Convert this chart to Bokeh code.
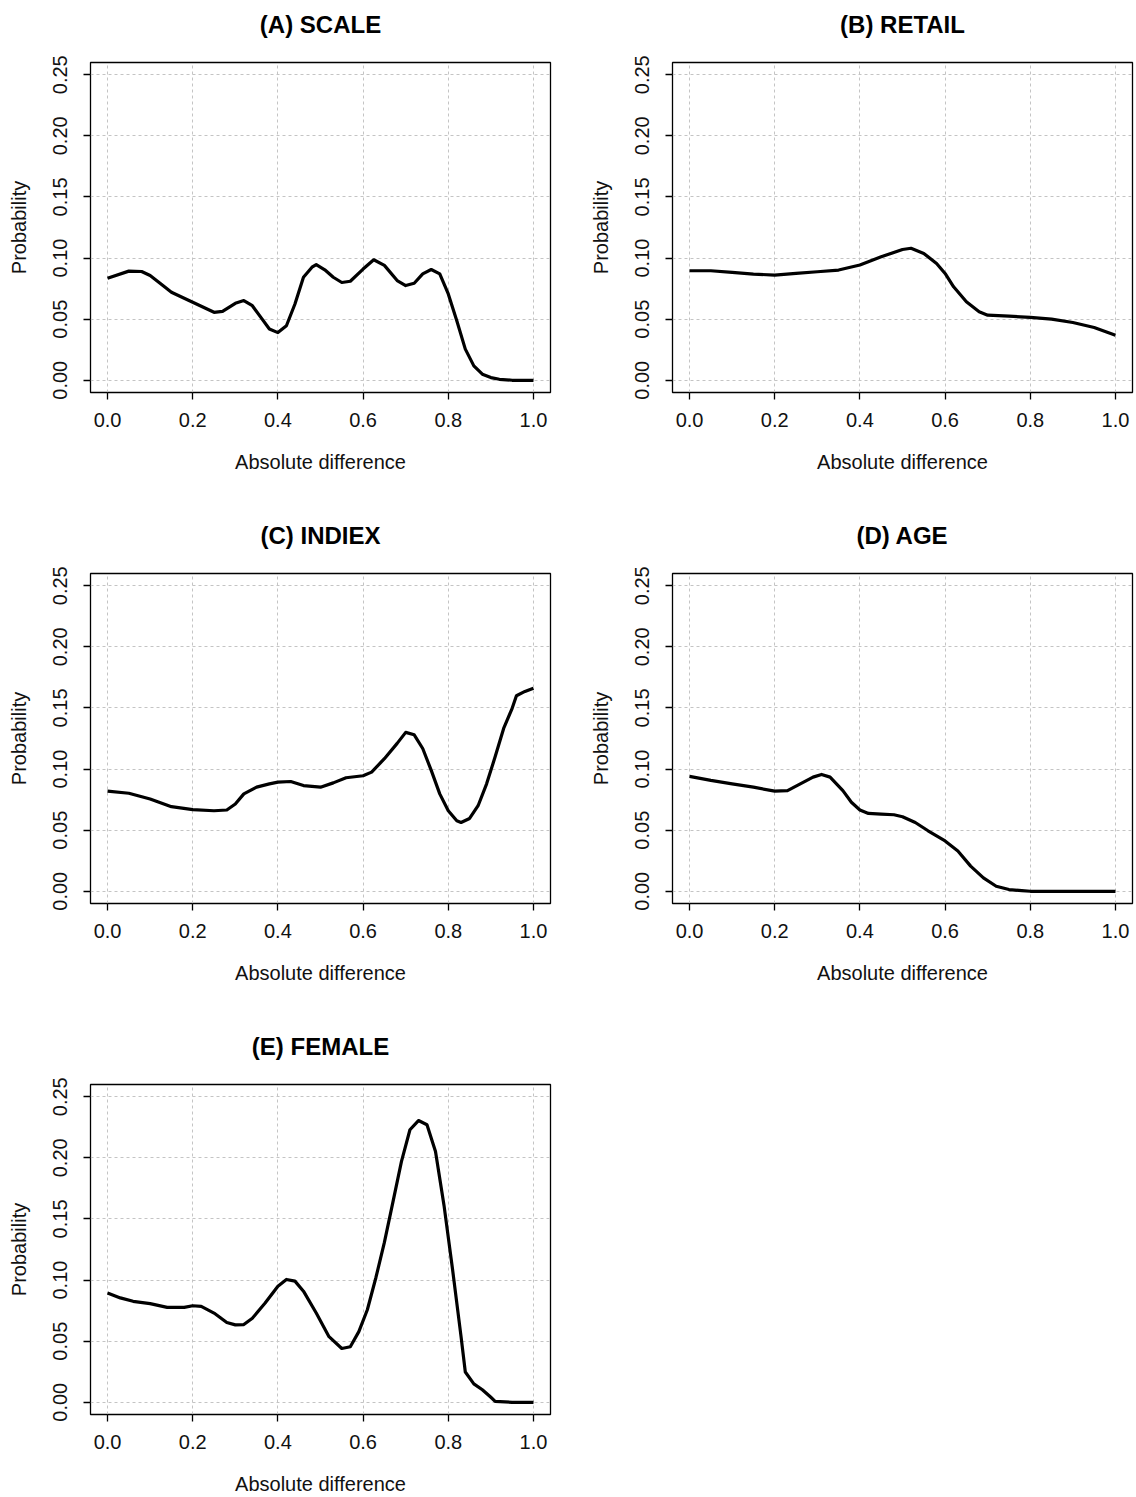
from bokeh.plotting import figure
from bokeh.layouts import column, row
from bokeh.models import Range1d, FixedTicker, NumeralTickFormatter
from bokeh.embed import file_html
from bokeh.resources import INLINE

# ---- data ----
titles = ["(A) SCALE", "(B) RETAIL", "(C) INDIEX", "(D) AGE", "(E) FEMALE"]
x_ticks = [0.0, 0.2, 0.4, 0.6, 0.8, 1.0]
y_ticks = [0.0, 0.05, 0.10, 0.15, 0.20, 0.25]

A_x = [0.0, 0.05, 0.08, 0.10, 0.13, 0.15, 0.20, 0.25, 0.27, 0.30, 0.32, 0.34, 0.36, 0.38, 0.40, 0.42, 0.44,
       0.46, 0.48, 0.49, 0.51, 0.53, 0.55, 0.57, 0.60, 0.625, 0.65, 0.68, 0.70, 0.72, 0.74, 0.76, 0.78,
       0.80, 0.82, 0.84, 0.86, 0.88, 0.90, 0.92, 0.95, 1.0]
A_y = [0.0835, 0.0893, 0.0890, 0.0857, 0.0775, 0.0720, 0.0638, 0.0556, 0.0564, 0.0630, 0.0652, 0.0610,
       0.0515, 0.0420, 0.0390, 0.0446, 0.0624, 0.0843, 0.0925, 0.0947, 0.0904, 0.0843, 0.0800, 0.0810,
       0.0910, 0.0986, 0.0940, 0.0816, 0.0775, 0.0794, 0.0870, 0.0906, 0.0870, 0.0706, 0.0487, 0.0255,
       0.0118, 0.0050, 0.0022, 0.0008, 0.0, 0.0]

B_x = [0.0, 0.05, 0.10, 0.15, 0.20, 0.25, 0.30, 0.35, 0.40, 0.45, 0.50, 0.52, 0.55, 0.58, 0.60, 0.62,
       0.65, 0.68, 0.70, 0.75, 0.80, 0.85, 0.90, 0.95, 1.0]
B_y = [0.0896, 0.0896, 0.0883, 0.0869, 0.0860, 0.0874, 0.0888, 0.0902, 0.0943, 0.1010, 0.1070, 0.1080,
       0.1038, 0.0956, 0.0874, 0.0765, 0.0642, 0.0560, 0.0533, 0.0525, 0.0514, 0.0500, 0.0473, 0.0432,
       0.0369]

C_x = [0.0, 0.05, 0.10, 0.15, 0.20, 0.25, 0.28, 0.30, 0.32, 0.35, 0.38, 0.40, 0.43, 0.46, 0.50, 0.53,
       0.56, 0.60, 0.62, 0.65, 0.68, 0.70, 0.72, 0.74, 0.76, 0.78, 0.80, 0.82, 0.83, 0.85, 0.87, 0.89,
       0.91, 0.93, 0.95, 0.96, 0.98, 1.0]
C_y = [0.0819, 0.0802, 0.0755, 0.0692, 0.0668, 0.0659, 0.0665, 0.0714, 0.0797, 0.0852, 0.0879, 0.0893,
       0.0898, 0.0865, 0.0852, 0.0887, 0.0929, 0.0945, 0.0975, 0.1085, 0.1210, 0.1300, 0.1280, 0.1168,
       0.0989, 0.0797, 0.0659, 0.0577, 0.0563, 0.0596, 0.0700, 0.0879, 0.1100, 0.1332, 0.1497, 0.1600,
       0.1635, 0.1662]

D_x = [0.0, 0.05, 0.10, 0.15, 0.20, 0.23, 0.26, 0.29, 0.31, 0.33, 0.36, 0.38, 0.40, 0.42, 0.45, 0.48,
       0.50, 0.53, 0.56, 0.60, 0.63, 0.66, 0.69, 0.72, 0.75, 0.78, 0.80, 1.0]
D_y = [0.0940, 0.0907, 0.0879, 0.0852, 0.0819, 0.0824, 0.0879, 0.0934, 0.0956, 0.0934, 0.0824, 0.0728,
       0.0665, 0.0637, 0.0632, 0.0626, 0.0610, 0.0563, 0.0495, 0.0412, 0.0330, 0.0206, 0.0110, 0.0041,
       0.0014, 0.0005, 0.0, 0.0]

E_x = [0.0, 0.03, 0.06, 0.10, 0.14, 0.18, 0.20, 0.22, 0.25, 0.28, 0.30, 0.32, 0.34, 0.37, 0.40, 0.42,
       0.44, 0.46, 0.49, 0.52, 0.55, 0.57, 0.59, 0.61, 0.63, 0.65, 0.67, 0.69, 0.71, 0.73, 0.75, 0.77,
       0.79, 0.81, 0.83, 0.84, 0.86, 0.88, 0.90, 0.91, 0.95, 1.0]
E_y = [0.0895, 0.0854, 0.0826, 0.0807, 0.0776, 0.0776, 0.0790, 0.0785, 0.0730, 0.0653, 0.0633, 0.0636,
       0.0688, 0.0812, 0.0950, 0.1005, 0.0991, 0.0909, 0.0730, 0.0537, 0.0440, 0.0454, 0.0578, 0.0757,
       0.1019, 0.1308, 0.1638, 0.1969, 0.2230, 0.2305, 0.2271, 0.2051, 0.1611, 0.1088, 0.0537, 0.0248,
       0.0151, 0.0102, 0.0041, 0.0008, 0.0, 0.0]

series = [(A_x, A_y), (B_x, B_y), (C_x, C_y), (D_x, D_y), (E_x, E_y)]

FONT = "Liberation Sans"
TOP = 79      # top border (holds the title)
SHIFT = 17    # whole layout pulled up by this much


def make_panel(title, xs, ys, left, right, height, bottom):
    p = figure(width=left + 460 + right, height=height, output_backend="svg", toolbar_location=None,
               x_range=Range1d(-0.04, 1.04), y_range=Range1d(-0.01, 0.26),
               min_border_left=left, min_border_right=right, min_border_top=TOP,
               min_border_bottom=bottom, background_fill_color="white", border_fill_color="white")
    p.title.text = title
    p.title.align = "center"
    p.title.text_font = FONT
    p.title.text_font_size = "24px"
    p.title.text_font_style = "bold"
    p.title.text_color = "black"
    p.title.standoff = 50

    p.outline_line_color = "black"
    p.outline_line_width = 1.3
    p.outline_line_alpha = 1.0

    p.xaxis.ticker = FixedTicker(ticks=x_ticks)
    p.yaxis.ticker = FixedTicker(ticks=y_ticks)
    p.xaxis.formatter = NumeralTickFormatter(format="0.0")
    p.yaxis.formatter = NumeralTickFormatter(format="0.00")
    p.xaxis.axis_label = "Absolute difference"
    p.yaxis.axis_label = "Probability"
    for ax in (p.xaxis, p.yaxis):
        ax.axis_line_color = None
        ax.major_tick_out = 7
        ax.major_tick_in = 0
        ax.major_tick_line_color = "black"
        ax.major_tick_line_width = 1.3
        ax.minor_tick_line_color = None
        ax.major_label_text_font = FONT
        ax.major_label_text_font_size = "20px"
        ax.major_label_text_color = "#111111"
        ax.axis_label_text_font = FONT
        ax.axis_label_text_font_size = "20px"
        ax.axis_label_text_font_style = "normal"
        ax.axis_label_text_color = "#111111"
    p.xaxis.major_label_standoff = 13
    p.xaxis.axis_label_standoff = 21
    p.yaxis.major_label_orientation = "vertical"
    p.yaxis.major_label_standoff = 16
    p.yaxis.axis_label_standoff = 21

    p.xgrid.ticker = FixedTicker(ticks=x_ticks)
    p.ygrid.ticker = FixedTicker(ticks=y_ticks)
    for g in (p.xgrid, p.ygrid):
        g.grid_line_color = "#c4c4c4"
        g.grid_line_dash = "3 3"
        g.grid_line_width = 1

    p.line(xs, ys, line_color="black", line_width=3.2, line_join="round")
    return p


pa = make_panel(titles[0], *series[0], left=90, right=18, height=511, bottom=102)
pb = make_panel(titles[1], *series[1], left=104, right=4, height=511, bottom=102)
pc = make_panel(titles[2], *series[2], left=90, right=18, height=511, bottom=102)
pd = make_panel(titles[3], *series[3], left=104, right=4, height=511, bottom=102)
pe = make_panel(titles[4], *series[4], left=90, right=18, height=492, bottom=83)

layout = column(row(pa, pb), row(pc, pd), row(pe), margin=(-SHIFT, 0, 0, 0))

open("out.html", "w").write(file_html(layout, INLINE))
